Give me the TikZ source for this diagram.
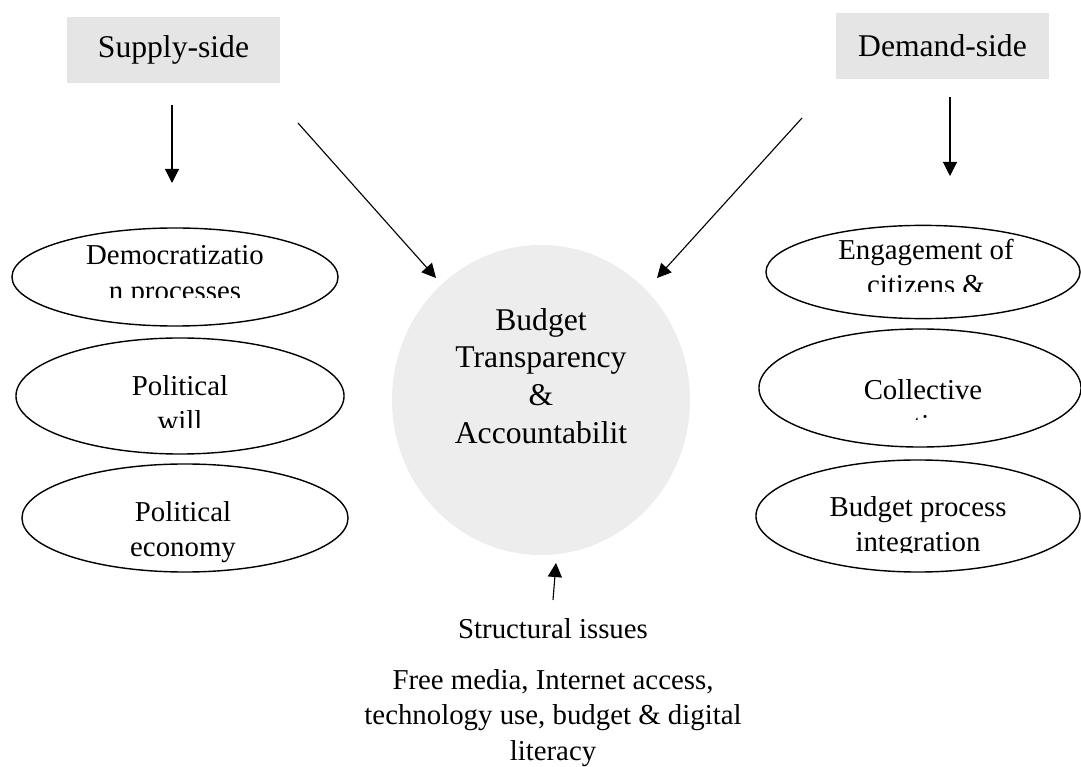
\documentclass[tikz,border=0pt]{standalone}
\usepackage{fontspec}
\setmainfont{Liberation Serif}
\usetikzlibrary{shapes.geometric}
\usetikzlibrary{arrows.meta}
\newcommand\bigtext[0]{\fontsize{22.5}{27}\selectfont}
\newcommand\midtext[0]{\fontsize{20.5}{25}\selectfont}

\begin{document}
\begin{tikzpicture}  [x=0.025cm, y=-0.025cm,
  side/.style={fill=gray!20, minimum width=5.33cm, minimum height=1.65cm, font=\bigtext},
  oval/.style={ellipse, draw, line width=1pt},
  txt/.style={align=center, font=\midtext},
  arr/.style={line width=0.8pt, -{Triangle[length=10pt,width=10pt]}}]

\useasboundingbox (0,0) rectangle (1081,767);

\node[side] (supply) at (173.5,50) {Supply-side};
\node[side] (demand) at (942.5,46) {Demand-side};

\node[ellipse, fill=gray!14, minimum width=7.45cm, minimum height=7.75cm] (bta) at (541,400) {};
\node[align=center, font=\bigtext, text depth=0pt] (btatext) at (541,376) {Budget\\Transparency\\\&\\Accountabilit};

\node[oval, minimum width=8.15cm, minimum height=2.45cm] (dem) at (175,277) {};
\node[oval, minimum width=8.2cm, minimum height=2.9cm] (will) at (180,396) {};
\node[oval, minimum width=8.15cm, minimum height=2.7cm] (econ) at (185,518) {};
\node[oval, minimum width=7.85cm, minimum height=2.33cm] (eng) at (923,272) {};
\node[oval, minimum width=8.05cm, minimum height=2.95cm] (coll) at (920,388) {};
\node[oval, minimum width=8.1cm, minimum height=2.8cm] (proc) at (918,516) {};

\begin{scope}
\clip (0,0) rectangle (1081,298);
\node[txt] (demtext) at (175,276) {Democratizatio\\n processes};
\end{scope}
\begin{scope}
\clip (0,300) rectangle (1081,428);
\node[txt] (willtext) at (180,403) {Political\\will};
\end{scope}
\begin{scope}
\clip (0,430) rectangle (1081,567);
\node[txt] (econtext) at (183,532) {Political\\economy};
\end{scope}
\begin{scope}
\clip (0,0) rectangle (1081,292);
\node[txt] (engtext) at (926,267) {Engagement of\\citizens \&};
\end{scope}
\begin{scope}
\clip (0,300) rectangle (1081,420);
\node[txt] (colltext) at (923,407) {Collective\\action};
\end{scope}
\begin{scope}
\clip (0,430) rectangle (1081,553);
\node[txt] (proctext) at (918,527) {Budget process\\integration};
\end{scope}

\node[txt] (struct) at (553,629) {Structural issues};
\node[txt] (media) at (553,718) {Free media, Internet access,\\technology use, budget \& digital\\literacy};

\coordinate (s1) at (172,105);
\coordinate (s2) at (172,183);
\coordinate (s3) at (298,123);
\coordinate (s4) at (436,278);
\coordinate (d1) at (950,97);
\coordinate (d2) at (950,176);
\coordinate (d3) at (802,118);
\coordinate (d4) at (657,278);
\coordinate (b1) at (553,600);
\coordinate (b2) at (556,563);

\draw[arr] (s1)--(s2);
\draw[arr] (s3)--(s4);
\draw[arr] (d1)--(d2);
\draw[arr] (d3)--(d4);
\draw[arr] (b1)--(b2);

\end{tikzpicture}
\end{document}
